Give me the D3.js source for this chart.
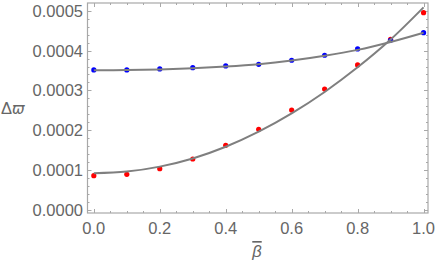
<!DOCTYPE html>
<html lang="en">
<head>
<meta charset="utf-8">
<title>Delta omega vs beta</title>
<script src="https://cdn.jsdelivr.net/npm/d3@7"></script>
<style>
  body { margin: 0; background: #fff; }
  svg { display: block; background: #fff; }
  .lbl { font-family: "Liberation Sans", Arial, sans-serif; font-size: 16.5px; fill: #666; }
</style>
</head>
<body>
<script>
// data (values in units of 1e-4)
var betaPts = [0.0, 0.1, 0.2, 0.3, 0.4, 0.5, 0.6, 0.7, 0.8, 0.9, 1.0];
var redPts  = [0.851, 0.887, 1.028, 1.272, 1.617, 2.02, 2.506, 3.035, 3.64, 4.287, 4.957];
var bluePts = [3.514, 3.514, 3.539, 3.572, 3.615, 3.657, 3.758, 3.884, 4.043, 4.262, 4.453];

// fitted curves
var betaFit = [0.0, 0.1, 0.2, 0.3, 0.4, 0.5, 0.6, 0.7, 0.8, 0.9, 1.0];
var redFit  = [0.912, 0.955, 1.08, 1.285, 1.58, 1.96, 2.42, 2.96, 3.58, 4.28, 5.09];
var blueFit = [3.506, 3.51, 3.525, 3.555, 3.60, 3.66, 3.75, 3.87, 4.02, 4.22, 4.453];

var xTicks = [0.0, 0.2, 0.4, 0.6, 0.8, 1.0];
var yTicks = [0.0, 0.0001, 0.0002, 0.0003, 0.0004, 0.0005];

var width = 436, height = 267;
var fLeft = 87.5, fRight = 428, fTop = 3, fBottom = 213;

var svg = d3.select("body").append("svg")
    .attr("width", width)
    .attr("height", height);

var x = d3.scaleLinear().domain([-0.0192, 1.0135]).range([fLeft, fRight]);
var y = d3.scaleLinear().domain([-0.0000088, 0.000520]).range([fBottom, fTop]);

var frameColor = "#a8a8a8";

// ticks (inside frame, on all four sides)
var xMinor = d3.range(0, 1.0001, 0.05);
var yMinor = d3.range(0, 0.00052, 0.00002);
var tk = svg.append("g").attr("stroke", frameColor).attr("stroke-width", 1);

xMinor.forEach(function(v, i) {
    var len = (i % 4 == 0) ? 4 : 2;
    var px = Math.round(x(v)) + 0.5;
    tk.append("line").attr("x1", px).attr("x2", px).attr("y1", fBottom).attr("y2", fBottom - len);
    tk.append("line").attr("x1", px).attr("x2", px).attr("y1", fTop).attr("y2", fTop + len);
});
yMinor.forEach(function(v, i) {
    var len = (i % 5 == 0) ? 4 : 2;
    var py = Math.round(y(v)) + 0.5;
    tk.append("line").attr("x1", fLeft).attr("x2", fLeft + len).attr("y1", py).attr("y2", py);
    tk.append("line").attr("x1", fRight).attr("x2", fRight - len).attr("y1", py).attr("y2", py);
});

// frame
svg.append("rect")
    .attr("x", fLeft).attr("y", fTop)
    .attr("width", fRight - fLeft).attr("height", fBottom - fTop)
    .attr("fill", "none")
    .attr("stroke", frameColor)
    .attr("stroke-width", 1.2);

// tick labels
svg.selectAll(".xl").data(xTicks).enter().append("text")
    .attr("class", "lbl")
    .attr("x", function(d) { return x(d); })
    .attr("y", 234)
    .attr("text-anchor", "middle")
    .text(function(d) { return d.toFixed(1); });

svg.selectAll(".yl").data(yTicks).enter().append("text")
    .attr("class", "lbl")
    .attr("x", 83)
    .attr("y", function(d) { return y(d) + 6; })
    .attr("text-anchor", "end")
    .text(function(d) { return d.toFixed(4); });

// axis labels
var yl = svg.append("text").attr("class", "lbl")
    .attr("x", 1).attr("y", 114);
yl.append("tspan").text("Δ");
yl.append("tspan")
    .attr("font-family", "DejaVu Sans")
    .attr("font-size", "15px")
    .attr("font-style", "italic")
    .text("ϖ");

svg.append("text").attr("class", "lbl")
    .attr("x", 257).attr("y", 257)
    .attr("text-anchor", "middle")
    .attr("font-style", "italic")
    .attr("text-decoration", "overline")
    .text("β");

// points
function dots(vals, color) {
    svg.append("g").selectAll("circle")
        .data(betaPts)
        .enter().append("circle")
        .attr("cx", function(d) { return x(d); })
        .attr("cy", function(d, i) { return y(vals[i] * 1e-4); })
        .attr("r", 2.6)
        .attr("fill", color);
}
dots(redPts, "#ff0000");
dots(bluePts, "#0000ff");

// fitted curves
var line = d3.line()
    .x(function(d) { return x(d[0]); })
    .y(function(d) { return y(d[1] * 1e-4); })
    .curve(d3.curveCatmullRom);

[redFit, blueFit].forEach(function(f) {
    svg.append("path")
        .datum(betaFit.map(function(b, i) { return [b, f[i]]; }))
        .attr("d", line)
        .attr("fill", "none")
        .attr("stroke", "#7f7f7f")
        .attr("stroke-width", 2);
});
</script>
</body>
</html>
